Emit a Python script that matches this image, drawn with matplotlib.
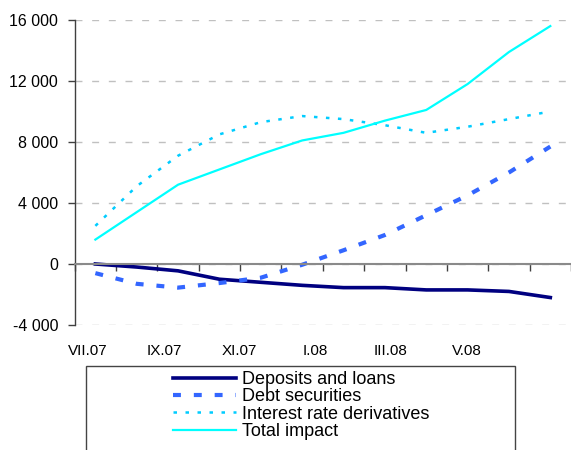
import numpy as np
import matplotlib
matplotlib.use("Agg")
import matplotlib.pyplot as plt
from matplotlib.ticker import FixedLocator, FuncFormatter
from matplotlib.patches import Rectangle

plt.rcParams["font.family"] = ["Liberation Sans", "DejaVu Sans"]

# Monthly impact, July 2007 - June 2008
months = ["VII.07", "VIII.07", "IX.07", "X.07", "XI.07", "XII.07",
          "I.08", "II.08", "III.08", "IV.08", "V.08", "VI.08"]
month_labels = months[::2]

deposits_loans = [0, -200, -450, -1000, -1200, -1400, -1550, -1550, -1700, -1700, -1800, -2200]
debt_securities = [-600, -1300, -1550, -1250, -900, -50, 900, 1900, 3200, 4500, 6000, 7700]
ir_derivatives = [2500, 5100, 7100, 8500, 9300, 9700, 9500, 9100, 8600, 9000, 9500, 10000]
total_impact = [1600, 3400, 5200, 6200, 7200, 8100, 8600, 9400, 10100, 11800, 13900, 15600]

y_ticks = [-4000, 0, 4000, 8000, 12000, 16000]

fig = plt.figure(figsize=(5.71, 4.5), dpi=100)
ax = fig.add_axes([0.1308, 0.2778, 0.8692, 0.6778])

x = np.arange(len(months))

ax.plot(x, deposits_loans, color="#000080", lw=2.6, label="Deposits and loans",
        solid_joinstyle="round")
ax.plot(x, debt_securities, color="#3366FF", lw=3.0, dashes=(1.9, 3.1),
        label="Debt securities")
ax.plot(x, ir_derivatives, color="#00CCFF", lw=1.8, dashes=(1.4, 3.4),
        label="Interest rate derivatives")
ax.plot(x, total_impact, color="#00FFFF", lw=1.6, label="Total impact")

ax.set_xlim(-0.5, len(months) - 0.5)
ax.set_ylim(y_ticks[0], y_ticks[-1])

# y axis
ax.yaxis.set_major_locator(FixedLocator(y_ticks))
ax.yaxis.set_major_formatter(FuncFormatter(lambda v, p: f"{v:,.0f}".replace(",", " ")))
ax.tick_params(axis="y", direction="out", length=5, width=1, pad=7,
               labelsize=11.5, color="#404040")
ax.yaxis.grid(True, color="#c0c0c0", lw=1, dashes=(5, 7))
ax.set_axisbelow(True)

# category axis running along zero
ax.spines["bottom"].set_position(("data", 0))
ax.spines["bottom"].set_color("#8a8a8a")
ax.spines["bottom"].set_linewidth(1.5)
ax.spines["left"].set_color("#404040")
ax.spines["left"].set_linewidth(1)
ax.spines["top"].set_visible(False)
ax.spines["right"].set_visible(False)
ax.xaxis.set_major_locator(FixedLocator(np.arange(-0.5, len(months), 1.0)))
ax.tick_params(axis="x", direction="out", length=5, width=1, color="#404040",
               labelbottom=False)

label_pos = np.linspace(0.027, 0.790, len(month_labels))
for xp, lab in zip(label_pos, month_labels):
    ax.text(xp, -0.085, lab, transform=ax.transAxes, ha="center", va="center",
            fontsize=11)

# legend panel
fig.patches.append(Rectangle((85.7 / 571, -0.05), (515 - 85.7) / 571, 0.1873 + 0.05,
                             transform=fig.transFigure, facecolor="white",
                             edgecolor="#444444", lw=1, zorder=0))
handles, labels = ax.get_legend_handles_labels()
fig.legend(handles, labels, loc="upper left", bbox_to_anchor=(173 / 571, 1 - 371 / 450),
           bbox_transform=fig.transFigure, frameon=False, borderpad=0,
           borderaxespad=0, handlelength=3.5, handletextpad=0.3,
           labelspacing=0.02, prop={"size": 13})

fig.savefig("out.png", dpi=100)
